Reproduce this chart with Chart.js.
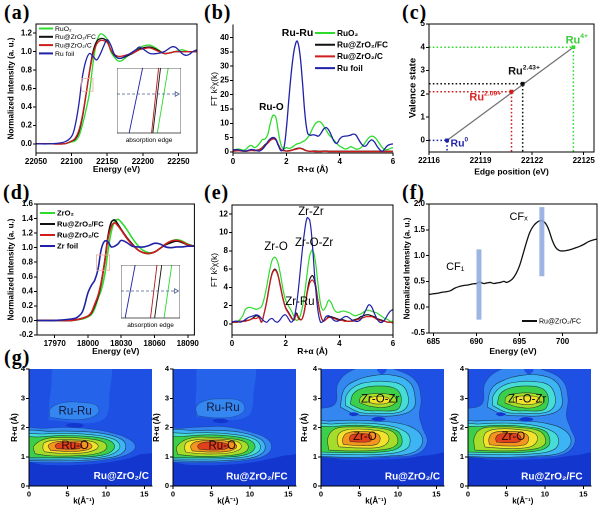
<!DOCTYPE html>
<html>
<head>
<meta charset="utf-8">
<script src="https://cdn.jsdelivr.net/npm/chart.js@4.4.0/dist/chart.umd.min.js"></script>
<style>
body { margin: 0; background: #fff; }
#wrap { position: relative; width: 600px; height: 508px; overflow: hidden; background: #fff; }
canvas { position: absolute; }
.tag { position: absolute; font: bold 20px "Liberation Serif", "Times New Roman", serif; color: #000; letter-spacing: 1px; }
</style>
</head>
<body>
<div id="wrap">
  <div class="tag" style="left:4px;top:1px">(a)</div>
  <div class="tag" style="left:204px;top:1px">(b)</div>
  <div class="tag" style="left:402px;top:1px">(c)</div>
  <div class="tag" style="left:3px;top:181px">(d)</div>
  <div class="tag" style="left:204px;top:181px">(e)</div>
  <div class="tag" style="left:402px;top:181px">(f)</div>
  <div class="tag" style="left:4px;top:346px">(g)</div>
</div>
<script>
// ---- (a) Ru K-edge XANES
const aEnergy = [22050,22070,22090,22100,22105,22110,22115,22120,22125,22130,22135,22140,22145,22150,22155,22160,22165,22170,22180,22190,22195,22200,22210,22220,22230,22240,22245,22250,22255,22260,22265,22270,22276];
const aRuO2   = [0,0,0,0.02,0.03,0.08,0.2,0.36,0.55,0.87,1.1,1.19,1.18,1.13,1.0,0.94,0.9,0.9,0.96,1.01,1.04,1.06,1.07,1.03,0.98,0.99,1.0,1.01,1.02,1.01,1.0,1.0,1.01];
const aFC     = [0,0,0,0.03,0.05,0.12,0.28,0.52,0.78,1.0,1.11,1.14,1.14,1.11,1.02,0.96,0.93,0.93,0.96,1.0,1.03,1.04,1.05,1.02,0.98,0.99,1.0,1.0,1.0,1.0,1.0,1.0,1.0];
const aC      = [0,0,0,0.03,0.06,0.14,0.3,0.53,0.77,0.97,1.08,1.12,1.12,1.1,1.02,0.97,0.95,0.95,0.97,1.0,1.02,1.03,1.04,1.01,0.98,0.99,1.0,1.0,1.0,1.0,1.0,1.0,1.0];
const aRuFoil = [0,0,0.02,0.08,0.2,0.42,0.72,0.9,0.98,0.95,0.91,0.97,1.06,1.13,1.07,0.97,0.93,0.93,0.97,1.02,1.05,1.03,0.98,0.98,1.0,1.05,1.05,1.02,0.98,0.96,0.97,1.0,1.02];
const aXTicks = [22050,22100,22150,22200,22250];
const aYTicks = [0,0.2,0.4,0.6,0.8,1.0,1.2];
const aZoomBox = [22114,22130,0.57,0.71];
// inset (a): edge line feet / heads in inset units, order foil, C, FC, RuO2
const iaFoot = [0.19,0.54,0.56,0.63];
const iaHead = [0.40,0.65,0.68,0.80];
const iaArrow = 0.6;

// ---- (b) Ru FT-EXAFS
const rGrid = [0,0.1,0.2,0.3,0.4,0.5,0.6,0.7,0.8,0.9,1.0,1.1,1.2,1.3,1.4,1.5,1.6,1.7,1.8,1.9,2.0,2.1,2.2,2.3,2.4,2.5,2.6,2.7,2.8,2.9,3.0,3.1,3.2,3.3,3.4,3.5,3.6,3.7,3.8,3.9,4.0,4.1,4.2,4.3,4.4,4.5,4.6,4.7,4.8,4.9,5.0,5.1,5.2,5.3,5.4,5.5,5.6,5.7,5.8,5.9,6.0];
const bRuO2   = [0.5,0.8,1.0,0.8,0.6,1.0,2.0,2.2,1.5,2.0,3.0,4.3,4.5,6.0,10.0,12.8,12.3,7.0,2.5,1.0,1.5,1.2,1.5,2.2,2.8,3.0,3.5,4.0,5.0,6.5,8.5,10.0,10.6,10.3,9.0,7.5,6.0,5.0,4.0,2.8,2.0,1.5,1.0,1.2,1.8,1.5,1.0,1.0,1.5,2.5,3.8,5.0,5.5,5.2,4.2,2.8,1.5,0.8,0.8,1.2,1.5];
const bFC     = [0.3,0.4,0.5,0.4,0.3,0.3,0.5,0.6,0.5,0.6,0.9,1.5,2.5,3.2,4.3,5.0,4.5,2.5,0.8,0.5,0.3,0.4,0.6,0.9,1.2,1.3,1.1,0.6,0.3,0.2,0.3,0.3,0.2,0.2,0.3,0.3,0.2,0.2,0.2,0.2,0.2,0.2,0.2,0.2,0.2,0.2,0.2,0.2,0.2,0.2,0.2,0.2,0.2,0.2,0.2,0.2,0.2,0.2,0.2,0.2,0.2];
const bC      = [0.2,0.3,0.4,0.3,0.2,0.2,0.4,0.5,0.4,0.5,0.8,1.3,2.2,3.0,4.0,4.5,4.2,2.3,0.8,0.4,0.3,0.3,0.5,0.8,1.0,1.2,1.0,0.5,0.3,0.2,0.2,0.1,0.1,0.1,0.2,0.2,0.1,0.1,0.1,0.1,0.1,0.1,0.1,0.1,0.1,0.1,0.1,0.1,0.1,0.1,0.1,0.1,0.1,0.1,0.1,0.1,0.1,0.1,0.1,0.1,0.1];
const bRuFoil = [0.6,0.8,0.7,0.5,0.3,0.3,0.6,0.8,0.7,0.4,0.3,0.9,2.0,3.5,4.6,5.0,4.4,2.2,0.4,1.0,8.0,19,29,36,38.8,35,25,13,6.5,5.8,6.0,5.8,5.5,6.5,8.0,8.5,7.5,5.5,3.5,3.0,4.5,5.3,5.5,5.6,5.8,6.2,6.0,4.5,3.0,2.0,2.2,3.5,4.2,3.5,2.0,0.8,0.2,1.2,2.2,2.6,2.8];
const bXTicks = [0,2,4,6];
const bYTicks = [0,5,10,15,20,25,30,35,40];

// ---- (c) valence vs edge position
const cStates  = ['Ru⁰','Ru²·⁰⁹⁺','Ru²·⁴³⁺','Ru⁴⁺'];
const cEdge    = [22117.05,22120.8,22121.45,22124.4];
const cValence = [0,2.09,2.43,4];
const cXTicks = [22116,22119,22122,22125];
const cYTicks = [0,1,2,3,4,5];

// ---- (d) Zr K-edge XANES
const dEnergy = [17954,17970,17985,17990,17995,18000,18003,18006,18009,18012,18015,18018,18021,18024,18027,18030,18035,18040,18045,18050,18055,18060,18065,18070,18075,18080,18085,18090,18096];
const dZrO2   = [0,0,0,0.01,0.02,0.05,0.08,0.16,0.3,0.42,0.62,0.95,1.22,1.36,1.39,1.35,1.25,1.13,1.03,0.96,0.93,0.94,0.99,1.05,1.09,1.11,1.09,1.05,1.02];
const dFC     = [0,0,0,0.01,0.03,0.06,0.1,0.2,0.32,0.52,0.8,1.15,1.35,1.38,1.32,1.25,1.14,1.05,0.97,0.93,0.92,0.94,0.99,1.04,1.07,1.09,1.07,1.04,1.02];
const dC      = [0,0,0,0.01,0.03,0.06,0.11,0.22,0.34,0.53,0.8,1.12,1.29,1.34,1.3,1.24,1.13,1.04,0.97,0.93,0.92,0.94,0.99,1.05,1.09,1.1,1.08,1.04,1.02];
const dZrFoil = [0,0,0.02,0.04,0.12,0.38,0.48,0.55,0.7,0.98,1.09,1.08,1.01,1.02,1.05,1.1,1.07,1.02,1.01,1.01,1.03,1.06,1.05,1.01,1.0,1.01,1.01,1.02,1.02];
const dXTicks = [17970,18000,18030,18060,18090];
const dYTicks = [-0.2,0,0.2,0.4,0.6,0.8,1.0,1.2,1.4,1.6];
const dZoomBox = [18007.6,18019.5,0.69,0.9];
const idFoot = [0.07,0.50,0.57,0.73];
const idHead = [0.24,0.61,0.69,0.86];
const idArrow = 0.51;

// ---- (e) Zr FT-EXAFS (same R grid)
const eZrO2   = [0.2,0.2,0.3,0.5,0.9,1.6,1.8,1.8,1.7,1.6,1.7,1.9,2.8,4.2,5.8,7.0,7.3,6.8,5.5,3.8,2.6,2.0,1.5,0.9,0.4,0.6,1.5,3.2,5.5,7.5,8.1,7.0,4.5,2.2,1.5,1.9,2.6,2.3,1.6,1.3,1.3,1.4,1.4,1.3,1.2,1.0,0.9,1.0,1.1,1.3,1.5,1.5,1.4,1.3,1.2,1.0,0.8,0.6,0.5,0.3,0.3];
const eFC     = [0.2,0.2,0.2,0.3,0.3,0.4,0.4,0.5,0.7,0.9,0.8,0.2,1.2,2.6,4.3,5.6,6.0,5.5,4.2,2.8,1.8,1.3,0.8,0.4,1.2,0.6,0.5,1.5,3.5,4.9,5.3,4.5,2.6,1.0,0.3,0.5,0.8,0.8,0.7,0.6,0.5,0.5,0.4,0.3,0.3,0.4,0.5,0.6,0.8,0.9,1.0,1.0,0.9,0.8,0.6,0.5,0.4,0.3,0.2,0.2,0.1];
const eC      = [0.2,0.2,0.2,0.3,0.3,0.3,0.4,0.5,0.6,0.6,0.7,0.2,1.2,2.5,4.2,5.5,5.9,5.4,4.1,2.7,1.7,1.2,0.7,0.4,1.0,0.5,0.5,1.4,3.3,4.5,4.8,4.2,2.5,1.0,0.3,0.5,0.7,0.7,0.6,0.5,0.4,0.4,0.3,0.3,0.3,0.3,0.4,0.5,0.6,0.7,0.8,0.8,0.8,0.7,0.5,0.4,0.3,0.3,0.2,0.2,0.1];
const eZrFoil = [0.2,0.3,0.3,0.2,0.3,0.5,0.7,0.8,0.9,1.0,0.9,0.6,0.3,0.2,0.5,0.6,0.3,0.2,0.5,0.9,1.0,0.6,0.2,0.5,2.0,4.5,7.5,10.0,11.6,11.3,8.5,4.5,1.5,0.2,0.3,0.8,0.9,0.7,0.4,0.3,0.4,0.6,0.8,0.8,0.6,0.4,0.3,0.3,0.5,1.0,1.6,2.1,1.9,1.2,0.6,0.2,0.2,0.5,1.0,1.4,1.6];
const eYTicks = [0,2,4,6,8,10,12];

// ---- (f) F K-edge
const fEnergy = [684.5,685,685.5,686,686.5,687,687.5,688,688.5,689,689.5,690,690.4,690.8,691.2,691.6,692,692.4,692.8,693.2,693.5,693.8,694.2,694.6,695,695.4,695.8,696.2,696.6,697,697.5,698,698.4,698.8,699.2,699.6,700,700.5,701,701.5,702,702.5,703,703.5,704];
const fFC     = [0.245,0.26,0.27,0.29,0.3,0.32,0.37,0.4,0.42,0.43,0.45,0.46,0.49,0.46,0.47,0.48,0.46,0.47,0.48,0.5,0.48,0.5,0.55,0.65,0.8,1.02,1.25,1.45,1.57,1.64,1.68,1.63,1.5,1.3,1.16,1.1,1.09,1.1,1.12,1.15,1.18,1.22,1.27,1.3,1.32];
const fBarE  = [690.3,697.6];
const fBarLo = [-0.24,0.6];
const fBarHi = [1.12,1.94];
const fXTicks = [685,690,695,700];
const fYTicks = [-0.5,0,0.5,1.0,1.5,2.0];

// ---- (g) WT-EXAFS contours: [level, k,R, k,R, ...] outermost first
const gRuC = [
  [1.5,[2.5,2.25, 9.5,2.25, 10.5,3.2, 10.2,4.3, 3.8,4.3, 2.8,3.2]],
  [0,[-1,-1, 17,-1, 17,1.0, 15,1.1, 13,0.95, 10,0.8, 6,0.72, 2,0.72, -1,0.75]],
  [2,[2.7,2.35, 5,2.28, 7.5,2.3, 9,2.5, 8.8,2.75, 7,2.85, 4.5,2.85, 2.8,2.65]],
  [0,[4.8,2.05, 6,1.98, 7.1,2.05, 6.8,2.13, 6,2.15, 5,2.12]],
  [2,[-1,0.83, 3,0.8, 7,0.82, 10,0.9, 12.5,1.05, 13.8,1.3, 13.3,1.55, 11,1.8, 8,1.95, 5,2.0, 2,1.97, -1,1.9]],
  [3,[-1,0.88, 3,0.86, 7,0.88, 10,0.95, 12,1.1, 12.6,1.35, 12,1.6, 9.5,1.8, 6,1.87, 3,1.87, -1,1.8]],
  [4,[-1,0.93, 3,0.92, 7,0.94, 10,1.02, 11.5,1.2, 11.8,1.4, 11,1.6, 8.5,1.74, 5,1.8, 2,1.78, -1,1.7]],
  [5,[-1,0.98, 3,0.97, 7,0.99, 9.8,1.07, 11,1.25, 11,1.45, 10,1.6, 7.5,1.7, 4.5,1.73, 1.5,1.68, -1,1.6]],
  [6,[0.8,1.1, 3,1.03, 6.5,1.04, 9,1.12, 10.1,1.3, 9.7,1.5, 7.5,1.62, 4.5,1.66, 2,1.6, 0.6,1.35]],
  [7,[2,1.17, 4,1.12, 7,1.13, 8.7,1.25, 9,1.38, 8.2,1.52, 6,1.58, 3.5,1.57, 2,1.48, 1.8,1.3]],
  [8,[2.8,1.22, 5,1.18, 7.3,1.22, 8.2,1.35, 7.5,1.5, 5.5,1.54, 3.3,1.5, 2.5,1.38]],
  [9,[3.6,1.28, 5,1.26, 6.5,1.28, 6.9,1.38, 6.3,1.47, 5,1.5, 3.8,1.46, 3.4,1.37]]
];
const gRuFC = [
  [1.5,[3,2.35, 9.5,2.35, 10.5,3.2, 10.2,4.3, 3.8,4.3, 3,3.2]],
  [0,[-1,-1, 17,-1, 17,1.0, 15,1.05, 13,0.95, 10,0.8, 6,0.72, 2,0.72, -1,0.75]],
  [2,[3.2,2.4, 5.5,2.33, 8,2.38, 9.3,2.6, 8.8,2.9, 6.5,2.98, 4.2,2.92, 3,2.7]],
  [0,[5.2,2.2, 6.2,2.15, 7.2,2.2, 6.9,2.27, 6.1,2.3, 5.3,2.27]],
  [2,[-1,0.82, 3,0.8, 7,0.82, 10,0.9, 12,1.05, 12.8,1.3, 12.3,1.6, 10,1.85, 7,2.02, 4,2.02, 1,1.97, -1,1.9]],
  [3,[-1,0.87, 3,0.85, 7,0.87, 10,0.95, 11.6,1.12, 12,1.35, 11.4,1.6, 9,1.82, 6,1.9, 3,1.9, -1,1.82]],
  [4,[-1,0.93, 3,0.92, 7,0.94, 9.8,1.02, 11.2,1.2, 11.3,1.42, 10.4,1.62, 8,1.76, 5,1.82, 2,1.8, -1,1.72]],
  [5,[-1,0.98, 3,0.97, 7,0.99, 9.6,1.08, 10.6,1.27, 10.5,1.47, 9.4,1.62, 7,1.72, 4.5,1.75, 1.5,1.7, -1,1.62]],
  [6,[0.6,1.08, 3,1.02, 6.5,1.03, 9,1.12, 9.8,1.3, 9.4,1.5, 7.5,1.62, 4.5,1.67, 2,1.62, 0.5,1.35]],
  [7,[1.7,1.15, 4,1.1, 7,1.12, 8.6,1.24, 8.9,1.38, 8.2,1.53, 6,1.6, 3.5,1.59, 1.8,1.5, 1.5,1.3]],
  [8,[2.5,1.2, 5,1.16, 7.4,1.2, 8.3,1.35, 7.6,1.5, 5.5,1.56, 3.1,1.52, 2.3,1.37]],
  [9,[3.4,1.26, 5,1.23, 6.8,1.26, 7.3,1.37, 6.6,1.47, 5,1.51, 3.7,1.47, 3.2,1.37]]
];
const gZrC = [
  [0,[-1,-1, 17,-1, 17,1.05, 14,1.05, 11,0.95, 7,0.9, 3,0.9, -1,0.95]],
  [2,[-1,1.0, 4,0.95, 9,1.0, 12.5,1.1, 13.8,1.5, 13.2,2.0, 12.8,2.4, 13,3.0, 12.3,3.6, 10,3.95, 7,4.1, 4,3.95, 2.2,3.5, 1.8,2.8, -1,2.5]],
  [3,[-1,1.02, 4,0.98, 9,1.03, 12,1.15, 13.2,1.5, 12.5,1.9, 10,2.15, 7,2.22, 4,2.25, 1,2.22, -1,2.18]],
  [3,[2.5,2.7, 4.5,2.45, 7,2.4, 10,2.42, 12,2.65, 12.2,3.1, 11.5,3.55, 9.5,3.78, 7,3.78, 4.5,3.6, 3,3.3]],
  [0,[3.6,2.45, 4.2,2.39, 4.9,2.45, 4.5,2.51, 3.9,2.51]],
  [0,[6.5,2.28, 7.4,2.21, 8.4,2.28, 7.9,2.35, 7.0,2.35]],
  [1,[7.3,3.95, 7.9,3.82, 8.5,3.95, 8.5,4.2, 7.3,4.2]],
  [4,[-1,1.1, 4,1.07, 8.5,1.1, 11,1.25, 11.6,1.55, 11,1.85, 8.5,2.08, 5,2.15, 1.5,2.12, -1,2.06]],
  [5,[-1,1.17, 4,1.14, 8.5,1.18, 10.3,1.35, 10.5,1.65, 9.8,1.9, 7.5,2.03, 4.5,2.08, 1.5,2.03, -1,1.96]],
  [6,[1,1.23, 4,1.2, 8,1.24, 9.8,1.4, 9.9,1.68, 9,1.9, 6.5,2.0, 4,2.02, 1.8,1.95, 0.9,1.65]],
  [7,[2.3,1.34, 5,1.3, 7.8,1.34, 8.8,1.55, 8.5,1.8, 6.5,1.92, 4,1.94, 2.5,1.83, 2.1,1.6]],
  [8,[2.9,1.42, 5,1.38, 7.2,1.42, 7.7,1.62, 7.2,1.8, 5,1.86, 3.3,1.8, 2.8,1.6]],
  [9,[3.8,1.52, 5.2,1.5, 6.4,1.53, 6.6,1.65, 6.3,1.76, 5.2,1.79, 4,1.75, 3.7,1.64]],
  [4,[3.2,2.75, 5,2.52, 7,2.49, 10,2.51, 11.2,2.72, 11.3,3.1, 10.5,3.45, 8.5,3.57, 6.5,3.56, 4.5,3.42, 3.3,3.1]],
  [5,[3.8,2.8, 5.5,2.6, 7.5,2.57, 9.8,2.6, 10.4,2.82, 10.3,3.15, 9.5,3.35, 7.5,3.42, 5.5,3.35, 4.2,3.15]],
  [6,[5,2.85, 6.5,2.72, 8.5,2.7, 9.7,2.85, 9.6,3.05, 8.5,3.15, 6.5,3.15, 5.2,3.05]],
  [7,[6.2,2.86, 7.5,2.8, 8.8,2.86, 8.8,3.0, 7.5,3.06, 6.3,3.0]]
];
const gZrFC = [
  [0,[-1,-1, 17,-1, 17,1.05, 14,1.05, 11,0.95, 7,0.9, 3,0.9, -1,0.95]],
  [2,[-1,1.0, 4,0.95, 9,1.0, 12.5,1.1, 13.9,1.5, 13.3,2.0, 12.8,2.4, 13,3.0, 12.3,3.6, 10,3.95, 7,4.1, 4,3.95, 2.2,3.5, 1.8,2.8, -1,2.5]],
  [3,[-1,1.02, 4,0.98, 9,1.03, 12.2,1.15, 13.4,1.5, 12.6,1.9, 10,2.15, 7,2.22, 4,2.25, 1,2.22, -1,2.18]],
  [3,[2.5,2.7, 4.5,2.45, 7,2.4, 10,2.42, 12,2.65, 12.2,3.1, 11.5,3.55, 9.5,3.78, 7,3.78, 4.5,3.6, 3,3.3]],
  [0,[3.6,2.45, 4.2,2.39, 4.9,2.45, 4.5,2.51, 3.9,2.51]],
  [0,[6.6,2.27, 7.5,2.2, 8.5,2.27, 8.0,2.34, 7.1,2.34]],
  [1,[7.3,3.95, 7.9,3.82, 8.5,3.95, 8.5,4.2, 7.3,4.2]],
  [4,[-1,1.1, 4,1.07, 8.5,1.1, 11.2,1.25, 11.8,1.55, 11.1,1.85, 8.5,2.08, 5,2.15, 1.5,2.12, -1,2.06]],
  [5,[-1,1.17, 4,1.14, 8.5,1.18, 10.4,1.35, 10.6,1.65, 9.9,1.9, 7.5,2.03, 4.5,2.08, 1.5,2.03, -1,1.96]],
  [6,[0.9,1.23, 4,1.2, 8,1.24, 9.9,1.4, 10,1.68, 9.1,1.9, 6.5,2.0, 4,2.02, 1.7,1.95, 0.8,1.65]],
  [7,[2.2,1.33, 5,1.29, 8,1.33, 9,1.55, 8.7,1.8, 6.5,1.93, 4,1.95, 2.4,1.84, 2,1.6]],
  [8,[2.8,1.41, 5,1.37, 7.4,1.41, 7.9,1.62, 7.4,1.8, 5,1.87, 3.2,1.81, 2.7,1.6]],
  [9,[3.7,1.5, 5.3,1.48, 6.7,1.52, 6.9,1.65, 6.5,1.77, 5.3,1.8, 4,1.76, 3.6,1.64]],
  [4,[3.2,2.75, 5,2.52, 7,2.49, 10,2.51, 11.2,2.72, 11.3,3.1, 10.5,3.45, 8.5,3.57, 6.5,3.56, 4.5,3.42, 3.3,3.1]],
  [5,[3.8,2.8, 5.5,2.6, 7.5,2.57, 9.8,2.6, 10.4,2.82, 10.3,3.15, 9.5,3.35, 7.5,3.42, 5.5,3.35, 4.2,3.15]],
  [6,[4.8,2.84, 6.5,2.7, 8.5,2.68, 9.8,2.85, 9.7,3.06, 8.5,3.17, 6.5,3.17, 5,3.06]],
  [7,[5.9,2.86, 7.5,2.78, 9.2,2.86, 9.2,3.02, 7.5,3.08, 6,3.02]]
];
const gXTicks = [0,5,10,15];
const gYTicks = [0,1,2,3,4];

// ---------- styles
const FONT = '"Liberation Sans", Arial, sans-serif';
const GREEN = '#2edc2e', BLACK = '#111111', RED = '#d01c1c', BLUE = '#1f22a8';
const pal = { 0:'#1336cf', 1:'#1d50e3', 1.5:'#2563ea', 2:'#3487f0', 3:'#3db4f3', 4:'#46ddd6', 5:'#3ccf4c', 6:'#a6dc2a', 7:'#f2e22c', 8:'#f3951f', 9:'#e0401c' };

Chart.defaults.font.family = FONT;
Chart.defaults.color = '#000';
Chart.defaults.animation = false;
Chart.defaults.events = [];

// ---------- plugins
const bgFill = {
  id: 'bgFill',
  beforeDatasetsDraw(chart, args, o) {
    if (!o || !o.color) return;
    const a = chart.chartArea, c = chart.ctx;
    c.save(); c.fillStyle = o.color; c.fillRect(a.left, a.top, a.right - a.left, a.bottom - a.top); c.restore();
  }
};
const frame = {
  id: 'frame',
  afterDatasetsDraw(chart, args, o) {
    if (!o || !o.on) return;
    const a = chart.chartArea, c = chart.ctx;
    c.save(); c.strokeStyle = o.color || '#000'; c.lineWidth = o.w || 1;
    c.strokeRect(a.left, a.top, a.right - a.left, a.bottom - a.top); c.restore();
  }
};
const legendBox = {
  id: 'legendBox',
  afterDatasetsDraw(chart, args, o) {
    if (!o || o.dx == null) return;
    const a = chart.chartArea, c = chart.ctx;
    let i = 0;
    c.save();
    c.font = (o.weight || 'normal') + ' ' + o.size + 'px ' + FONT;
    c.textBaseline = 'middle';
    chart.data.datasets.forEach(ds => {
      if (!ds.label) return;
      const x = a.left + o.dx, y = a.top + o.dy + i * o.row;
      c.strokeStyle = ds.borderColor; c.lineWidth = o.lw || 2;
      c.beginPath(); c.moveTo(x, y); c.lineTo(x + o.len, y); c.stroke();
      c.fillStyle = '#000'; c.fillText(ds.label, x + o.len + 2, y + 0.5);
      i++;
    });
    c.restore();
  }
};
const notes = {
  id: 'notes',
  afterDatasetsDraw(chart, args, o) {
    if (!o || !o.items) return;
    const c = chart.ctx, xs = chart.scales.x, ys = chart.scales.y;
    c.save(); c.textBaseline = 'middle'; c.textAlign = 'left';
    o.items.forEach(n => {
      let x = xs.getPixelForValue(n.x);
      const y = ys.getPixelForValue(n.y);
      const f1 = (n.w || 'normal') + ' ' + n.s + 'px ' + FONT;
      const f2 = (n.w || 'normal') + ' ' + (n.s * 0.62).toFixed(1) + 'px ' + FONT;
      c.font = f1; const w1 = c.measureText(n.t).width;
      let w2 = 0;
      if (n.sup) { c.font = f2; w2 = c.measureText(n.sup).width; }
      if (n.a === 'center') x -= (w1 + w2) / 2; else if (n.a === 'right') x -= (w1 + w2);
      c.fillStyle = n.c || '#000';
      c.font = f1; c.fillText(n.t, x, y);
      if (n.sup) { c.font = f2; c.fillText(n.sup, x + w1, y - n.s * 0.36); }
    });
    c.restore();
  }
};

// ---------- helpers
function place(left, top, w, h) {
  const cv = document.createElement('canvas');
  cv.width = w; cv.height = h;
  cv.style.left = left + 'px'; cv.style.top = top + 'px';
  cv.style.width = w + 'px'; cv.style.height = h + 'px';
  document.getElementById('wrap').appendChild(cv);
  return cv;
}
function ax(min, max, ticks, dec, fit, title, tpad, o) {
  o = o || {};
  return {
    type: 'linear', min: min, max: max,
    afterBuildTicks: s => { s.ticks = ticks.map(v => ({ value: v })); },
    afterFit: s => { if (s.isHorizontal()) s.height = fit; else s.width = fit; },
    ticks: { autoSkip: false, maxRotation: 0, padding: 1, font: { size: o.ts || 8, weight: 'bold' },
             callback: v => Number(v).toFixed(dec) },
    grid: { drawOnChartArea: false, tickLength: 3, color: '#000' },
    border: { color: '#000', width: 1, z: 1 },
    title: { display: !!title, text: title, padding: { top: tpad, bottom: tpad },
             font: { size: o.tt || 8.5, weight: o.tw || 'bold' } }
  };
}
function curve(xs, ys, label, color, width, order) {
  return { label: label, data: xs.map((x, i) => ({ x: x, y: ys[i] })), borderColor: color,
           borderWidth: width, pointRadius: 0, showLine: true, tension: 0.35, fill: false, order: order };
}
function seg(pts, color, width, dash, order) {
  return { data: pts, borderColor: color, borderWidth: width, borderDash: dash || [], pointRadius: 0,
           showLine: true, tension: 0, fill: false, order: order || 0 };
}
function rect(b, color) {
  return seg([{x:b[0],y:b[2]},{x:b[1],y:b[2]},{x:b[1],y:b[3]},{x:b[0],y:b[3]},{x:b[0],y:b[2]}], color, 0.8, [], -1);
}
function chart(box, datasets, x, y, plug, extraOpts) {
  // box: left, top, width, height, padTop, padRight
  const cv = place(box[0], box[1], box[2], box[3]);
  const opts = {
    responsive: false, devicePixelRatio: 2,
    layout: { padding: { top: box[4], right: box[5], left: 0, bottom: 0 }, autoPadding: false },
    scales: { x: x, y: y },
    plugins: Object.assign({ legend: { display: false }, tooltip: { enabled: false } }, plug)
  };
  if (extraOpts) Object.assign(opts, extraOpts);
  return new Chart(cv, { type: 'scatter', data: { datasets: datasets }, options: opts,
                         plugins: [bgFill, frame, legendBox, notes] });
}
function contours(list) {
  return list.map((item, i) => {
    const lvl = item[0], p = item[1], pts = [];
    for (let j = 0; j < p.length; j += 2) pts.push({ x: p[j], y: p[j + 1] });
    pts.push(pts[0]);
    const line = lvl >= 3 ? 'rgba(15,25,35,0.75)' : (lvl === 2 ? 'rgba(20,40,90,0.45)' : 'rgba(0,0,0,0)');
    return { data: pts, showLine: true, fill: 'shape', backgroundColor: pal[lvl], borderColor: line,
             borderWidth: lvl >= 2 ? 0.6 : 0.1, pointRadius: 0, tension: 0.4, order: -i };
  });
}
function insetChart(box, foot, head, arrowY) {
  const cols = [BLUE, '#b01818', BLACK, GREEN];
  const ds = foot.map((f, i) => seg([{ x: f, y: 0 }, { x: head[i], y: 1 }], cols[i], 0.9, [], 1));
  ds.push({ data: [{ x: 0, y: arrowY }, { x: 0.93, y: arrowY }], borderColor: '#4b5d8f', borderWidth: 0.8,
            borderDash: [3, 2], showLine: true, fill: false, pointRadius: [0, 2.6], pointStyle: 'triangle',
            pointRotation: 90, pointBackgroundColor: 'rgba(0,0,0,0)', pointBorderColor: '#4b5d8f', pointBorderWidth: 0.8, order: 0 });
  const cv = place(box[0], box[1], box[2], box[3]);
  return new Chart(cv, {
    type: 'scatter',
    data: { datasets: ds },
    options: {
      responsive: false, devicePixelRatio: 2,
      layout: { padding: 0, autoPadding: false },
      scales: {
        x: { type: 'linear', min: 0, max: 1, afterFit: s => { s.height = box[4]; },
             ticks: { display: false }, grid: { display: false }, border: { display: false },
             title: { display: true, text: 'absorption edge', font: { size: 6.5 }, padding: { top: 0, bottom: 1 } } },
        y: { type: 'linear', min: 0, max: 1, display: false }
      },
      plugins: { legend: { display: false }, tooltip: { enabled: false },
                 bgFill: { color: '#fff' }, frame: { on: true, w: 0.8, color: '#333' } }
    },
    plugins: [bgFill, frame]
  });
}

// ---------- (a)
chart([0, 18, 200, 160, 6, 3], [
  curve(aEnergy, aRuO2, 'RuO₂', GREEN, 1.3, 3),
  curve(aEnergy, aFC, 'Ru@ZrO₂/FC', BLACK, 1.3, 2),
  curve(aEnergy, aC, 'Ru@ZrO₂/C', RED, 1.3, 1),
  curve(aEnergy, aRuFoil, 'Ru foil', BLUE, 1.3, 0),
  rect(aZoomBox, '#e8ae96')
],
  ax(22050, 22276, aXTicks, 0, 25, 'Energy (eV)', 3),
  ax(-0.1, 1.3, aYTicks, 1, 36, 'Normalized Intensity (a. u.)', 6.5, { tt: 8 }),
  { frame: { on: true }, legendBox: { dx: 3, dy: 4.5, row: 8.3, len: 14, size: 6.8 } });
insetChart([117, 68, 64, 77, 12], iaFoot, iaHead, iaArrow);

// ---------- (b)
chart([200, 18, 200, 160, 7, 7], [
  curve(rGrid, bRuO2, 'RuO₂', GREEN, 1.3, 3),
  curve(rGrid, bFC, 'Ru@ZrO₂/FC', BLACK, 1.3, 2),
  curve(rGrid, bC, 'Ru@ZrO₂/C', RED, 1.3, 1),
  curve(rGrid, bRuFoil, 'Ru foil', BLUE, 1.3, 0)
],
  ax(0, 6, bXTicks, 0, 25, 'R+α (Å)', 3),
  ax(-0.4, 44.4, bYTicks, 0, 33, 'FT k²χ(k)', 9.5, { tw: 'normal' }),
  { legendBox: { dx: 82, dy: 8, row: 11.7, len: 20, size: 8.3, weight: 'bold' },
    notes: { items: [
      { x: 2.42, y: 41.6, t: 'Ru-Ru', s: 10.5, w: 'bold', a: 'center' },
      { x: 1.44, y: 15.6, t: 'Ru-O', s: 10, w: 'bold', a: 'center' }
    ] } });

// ---------- (c)
const cCol = [BLUE, RED, BLACK, GREEN];
const cSets = [seg([{ x: cEdge[0], y: cValence[0] }, { x: cEdge[3], y: cValence[3] }], '#707070', 1.2, [], 5)];
cEdge.forEach((e, i) => {
  cSets.push(seg([{ x: 22116, y: cValence[i] }, { x: e, y: cValence[i] }, { x: e, y: -0.5 }], cCol[i], 1.5, [1.6, 2.2], 4));
});
cSets.push({ data: cEdge.map((e, i) => ({ x: e, y: cValence[i] })), pointRadius: 2, pointStyle: 'rect',
             pointBackgroundColor: cCol, pointBorderColor: cCol, showLine: false, order: 0 });
chart([400, 18, 200, 160, 6, 6], cSets,
  ax(22116, 22125.6, cXTicks, 0, 26, 'Edge position (eV)', 0.5, { tt: 8.5 }),
  ax(-0.5, 5, cYTicks, 0, 29, 'Valence state', 7, { tt: 9.5 }),
  { frame: { on: true }, notes: { items: [
    { x: 22124.6, y: 4.3, t: 'Ru', sup: '4+', s: 11, w: 'bold', a: 'center', c: '#3acc3a' },
    { x: 22120.6, y: 2.96, t: 'Ru', sup: '2.43+', s: 11, w: 'bold', c: '#111' },
    { x: 22118.35, y: 1.84, t: 'Ru', sup: '2.09+', s: 11, w: 'bold', c: '#dd2323' },
    { x: 22117.25, y: -0.14, t: 'Ru', sup: '0', s: 10.5, w: 'bold', c: '#2424a8' }
  ] } });

// ---------- (d)
chart([0, 196, 200, 162, 8, 3], [
  curve(dEnergy, dZrO2, 'ZrO₂', GREEN, 1.6, 3),
  curve(dEnergy, dFC, 'Ru@ZrO₂/FC', BLACK, 1.6, 2),
  curve(dEnergy, dC, 'Ru@ZrO₂/C', RED, 1.6, 1),
  curve(dEnergy, dZrFoil, 'Zr foil', BLUE, 1.6, 0),
  rect(dZoomBox, '#e8ae96')
],
  ax(17954, 18096, dXTicks, 0, 23, 'Energy (eV)', 1),
  ax(-0.2, 1.6, dYTicks, 1, 37, 'Normalized Intensity (a. u.)', 6.5, { tt: 8 }),
  { frame: { on: true }, legendBox: { dx: 3, dy: 9, row: 11, len: 15, size: 7.6, weight: 'bold' } });
insetChart([121, 265, 59, 65, 12], idFoot, idHead, idArrow);

// ---------- (e)
chart([200, 196, 200, 162, 9, 7], [
  curve(rGrid, eZrO2, null, GREEN, 1.2, 3),
  curve(rGrid, eFC, null, BLACK, 1.2, 2),
  curve(rGrid, eC, null, RED, 1.2, 1),
  curve(rGrid, eZrFoil, null, BLUE, 1.2, 0)
],
  ax(0, 6, bXTicks, 0, 23, 'R+α (Å)', 1),
  ax(-1.2, 13, eYTicks, 0, 32, 'FT k²χ(k)', 9.5, { tw: 'normal' }),
  { frame: { on: true }, notes: { items: [
    { x: 2.94, y: 12.25, t: 'Zr-Zr', s: 11.5, a: 'center' },
    { x: 1.64, y: 8.44, t: 'Zr-O', s: 11.5, a: 'center' },
    { x: 3.06, y: 8.87, t: 'Zr-O-Zr', s: 11.5, a: 'center' },
    { x: 2.53, y: 2.44, t: 'Zr-Ru', s: 11.5, a: 'center' }
  ] } });

// ---------- (f)
const fSets = [curve(fEnergy, fFC, 'Ru@ZrO₂/FC', BLACK, 1.3, 2)];
fBarE.forEach((e, i) => {
  const b = seg([{ x: e, y: fBarLo[i] }, { x: e, y: fBarHi[i] }], 'rgba(140,168,222,0.85)', 5, [], 0);
  b.borderCapStyle = 'butt';
  fSets.push(b);
});
chart([400, 196, 200, 162, 8, 3], fSets,
  ax(684.5, 704, fXTicks, 0, 25, 'Energy (eV)', 1),
  ax(-0.5, 2.0, fYTicks, 1, 29, 'Normalized Intensity (a. u.)', 2.5, { tt: 8 }),
  { frame: { on: true }, legendBox: { dx: 93, dy: 117, row: 10, len: 15, size: 7 },
    notes: { items: [
      { x: 687.55, y: 0.78, t: 'CF₁', s: 11, a: 'center' },
      { x: 694.9, y: 1.75, t: 'CFₓ', s: 11, a: 'center' }
    ] } });

// ---------- (g)
function wt(box, list, yw, tpad, items) {
  // trailing spaces nudge the k title left of the "10" tick, as in the figure
  return chart(box, contours(list),
    ax(0, 16, gXTicks, 0, 22, 'k(Å⁻¹)      ', 2, { ts: 7.5, tt: 8 }),
    ax(0, 4, gYTicks, 0, yw, 'R+α (Å)', tpad, { ts: 7.5, tt: 8 }),
    { bgFill: { color: pal[1] }, notes: { items: items } },
    { elements: { line: { capBezierPoints: false } } });
}
const dark = '#16183a';
wt([0, 362, 158, 146, 7, 6], gRuC, 29, 10, [
  { x: 6.0, y: 2.56, t: 'Ru-Ru', s: 11.5, a: 'center', c: dark },
  { x: 6.0, y: 1.37, t: 'Ru-O', s: 11.5, a: 'center', c: '#2a0606' },
  { x: 15.6, y: 0.34, t: 'Ru@ZrO₂/C', s: 10, w: 'bold', a: 'right', c: '#fff' }
]);
wt([150, 362, 150, 146, 7, 4], gRuFC, 23, 2, [
  { x: 6.5, y: 2.67, t: 'Ru-Ru', s: 11.5, a: 'center', c: dark },
  { x: 6.4, y: 1.37, t: 'Ru-O', s: 11.5, a: 'center', c: '#2a0606' },
  { x: 14.9, y: 0.32, t: 'Ru@ZrO₂/FC', s: 10, w: 'bold', a: 'right', c: '#fff' }
]);
wt([298, 362, 150, 146, 7, 4], gZrC, 23, 2, [
  { x: 7.7, y: 2.97, t: 'Zr-O-Zr', s: 11.5, a: 'center', c: '#101010' },
  { x: 5.7, y: 1.68, t: 'Zr-O', s: 11.5, a: 'center', c: '#2a0606' },
  { x: 15.5, y: 0.32, t: 'Ru@ZrO₂/C', s: 10, w: 'bold', a: 'right', c: '#fff' }
]);
wt([445, 362, 155, 146, 7, 9], gZrFC, 23, 5, [
  { x: 7.7, y: 2.97, t: 'Zr-O-Zr', s: 11.5, a: 'center', c: '#101010' },
  { x: 5.9, y: 1.68, t: 'Zr-O', s: 11.5, a: 'center', c: '#2a0606' },
  { x: 14.9, y: 0.32, t: 'Ru@ZrO₂/FC', s: 10, w: 'bold', a: 'right', c: '#fff' }
]);
</script>
</body>
</html>
